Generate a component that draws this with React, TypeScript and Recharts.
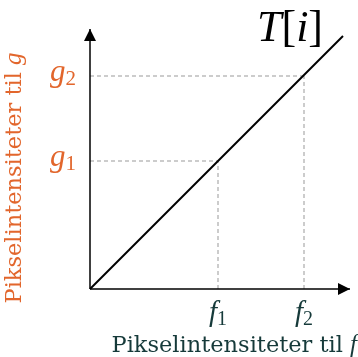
import React from 'react';
import { LineChart, Line, XAxis, YAxis, ReferenceLine, ReferenceDot } from 'recharts';

// intensity levels, in the same units on both axes
const F_LEVELS = [128, 214];
const G_LEVELS = [128, 213];
const TRANSFER = [
  { f: 0, g: 0 },
  { f: 253, g: 253 },
];
const AXIS_MAX = 260;

const SERIF = '"Liberation Serif", "DejaVu Serif", serif';
const WIDE_SERIF = '"DejaVu Serif", serif';
const ORANGE = '#e2662c';
const DARK = '#163a3a';

const FTick = ({ x, y, index }: any) => (
  <text x={x} y={y + 24} textAnchor="middle" fontFamily={SERIF} fontSize={29} fill={DARK}>
    <tspan fontStyle="italic">f</tspan>
    <tspan fontSize={20} dy={4}>{index + 1}</tspan>
  </text>
);

const GTick = ({ x, y, index }: any) => (
  <text x={x - 6} y={y + 5} textAnchor="end" fontFamily={SERIF} fontSize={31} fill={ORANGE}>
    <tspan fontStyle="italic">g</tspan>
    <tspan fontSize={21} dy={4}>{index + 1}</tspan>
  </text>
);

const arrowRight = ({ cx, cy }: any) => (
  <polygon points={`${cx},${cy} ${cx - 12},${cy - 6} ${cx - 12},${cy + 6}`} fill="#000" />
);
const arrowUp = ({ cx, cy }: any) => (
  <polygon points={`${cx},${cy} ${cx - 6},${cy + 12} ${cx + 6},${cy + 12}`} fill="#000" />
);

export default function App() {
  return (
    <div style={{ position: 'fixed', left: 0, top: 0 }}>
      <LineChart width={358} height={357} data={TRANSFER} margin={{ top: 29, right: 8, bottom: 0, left: 0 }}>
        <XAxis
          type="number"
          dataKey="f"
          domain={[0, AXIS_MAX]}
          ticks={F_LEVELS}
          tick={<FTick />}
          tickLine={false}
          axisLine={{ stroke: '#000', strokeWidth: 1.5 }}
          height={68}
          label={{
            content: ({ viewBox }: any) => (
              <text
                x={viewBox.x + viewBox.width + 7}
                y={viewBox.y + 63}
                textAnchor="end"
                fontFamily={WIDE_SERIF}
                fontWeight={300}
                fontSize={22.5}
                fill={DARK}
              >
                Pikselintensiteter til <tspan fontFamily={SERIF} fontSize={25} fontStyle="italic">f</tspan>
              </text>
            ),
          }}
        />
        <YAxis
          type="number"
          domain={[0, AXIS_MAX]}
          ticks={G_LEVELS}
          tick={<GTick />}
          tickLine={false}
          axisLine={{ stroke: '#000', strokeWidth: 1.5 }}
          width={90}
          label={{
            content: () => {
              const cx = 21;
              const cy = 178;
              return (
                <text
                  x={cx}
                  y={cy}
                  transform={`rotate(-90 ${cx} ${cy})`}
                  textAnchor="middle"
                  fontFamily={WIDE_SERIF}
                  fontWeight={300}
                  fontSize={22.5}
                  fill={ORANGE}
                >
                  Pikselintensiteter til <tspan fontFamily={SERIF} fontSize={25} fontStyle="italic">g</tspan>
                </text>
              );
            },
          }}
        />
        {F_LEVELS.map((f, i) => (
          <ReferenceLine
            key={`h${i}`}
            segment={[{ x: 0, y: G_LEVELS[i] }, { x: f, y: G_LEVELS[i] }]}
            stroke="#999"
            strokeDasharray="4 3"
          />
        ))}
        {F_LEVELS.map((f, i) => (
          <ReferenceLine
            key={`v${i}`}
            segment={[{ x: f, y: 0 }, { x: f, y: G_LEVELS[i] }]}
            stroke="#999"
            strokeDasharray="4 3"
          />
        ))}
        <Line
          dataKey="g"
          type="linear"
          stroke="#000"
          strokeWidth={2}
          dot={false}
          activeDot={false}
          isAnimationActive={false}
        />
        <ReferenceDot x={AXIS_MAX} y={0} shape={arrowRight} ifOverflow="visible" />
        <ReferenceDot x={0} y={AXIS_MAX} shape={arrowUp} ifOverflow="visible" />
        <text x={290} y={41} textAnchor="middle" fontFamily={SERIF} fontSize={44} fill="#000">
          <tspan fontStyle="italic">T</tspan>[<tspan fontStyle="italic">i</tspan>]
        </text>
      </LineChart>
    </div>
  );
}
